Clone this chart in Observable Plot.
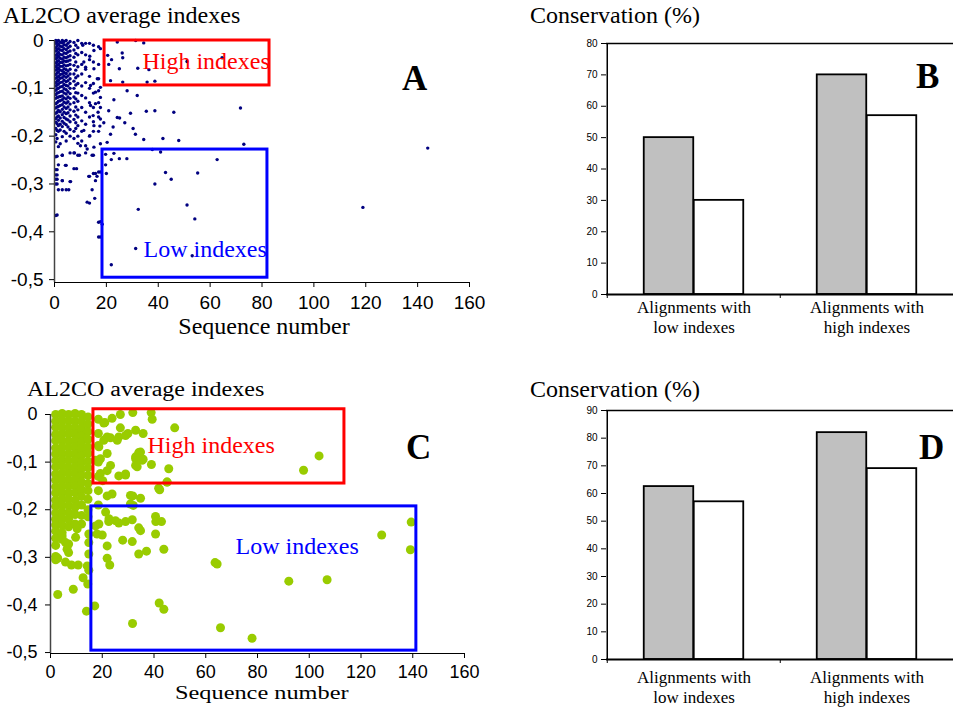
<!DOCTYPE html>
<html>
<head>
<meta charset="utf-8">
<script src="https://cdn.jsdelivr.net/npm/d3@7"></script>
<script src="https://cdn.jsdelivr.net/npm/@observablehq/plot@0.6"></script>
<style>
  html, body { margin: 0; padding: 0; background: #fff; }
  #page { position: relative; width: 953px; height: 708px; overflow: hidden; background: #fff; }
  #page svg { position: absolute; }
  .t { position: absolute; white-space: nowrap; line-height: 1; font-family: "Liberation Serif", "Times New Roman", serif; color: #000; transform-origin: left top; }
  .h { font-size: 24px; }
  .letter { font-size: 35px; font-weight: bold; }
</style>
</head>
<body>
<div id="page">
  <div class="t h" style="left:3px;top:3px">AL2CO average indexes</div>
  <div class="t h" style="left:264px;top:314px;transform:translateX(-50%)">Sequence number</div>
  <div class="t letter" style="left:402px;top:61px">A</div>
  <div class="t h" style="left:530px;top:3px">Conservation (%)</div>
  <div class="t letter" style="left:916px;top:59px">B</div>
  <div class="t" style="left:27px;top:379px;font-size:20px;transform:scaleX(1.2)">AL2CO average indexes</div>
  <div class="t" style="left:175px;top:683px;font-size:19px;transform:scaleX(1.28)">Sequence number</div>
  <div class="t letter" style="left:406px;top:430px">C</div>
  <div class="t h" style="left:530px;top:377px">Conservation (%)</div>
  <div class="t letter" style="left:919px;top:430px">D</div>
</div>
<script>
// ---------------- DATA ----------------
// Panel A: dense columns (sequence number, list of AL2CO indexes)
const colsA = [
  [0.5, [0, -0.006, -0.015, -0.022, -0.031, -0.038, -0.047, -0.055, -0.062, -0.071, -0.079, -0.088, -0.095, -0.104, -0.113, -0.121, -0.132, -0.141, -0.152, -0.163, -0.171, -0.184, -0.197, -0.212, -0.243, -0.27, -0.281, -0.29, -0.30, -0.366]],
  [1, [-0.003, -0.011, -0.019, -0.028, -0.036, -0.044, -0.052, -0.06, -0.068, -0.077, -0.085, -0.093, -0.101, -0.11, -0.119, -0.13, -0.139, -0.15, -0.16, -0.174, -0.188, -0.205]],
  [1.5, [0, -0.008, -0.017, -0.025, -0.033, -0.042, -0.05, -0.058, -0.066, -0.075, -0.083, -0.091, -0.1, -0.109, -0.118, -0.127, -0.138, -0.146, -0.158, -0.167, -0.178, -0.19, -0.222, -0.26, -0.312]],
  [2.2, [-0.004, -0.012, -0.02, -0.029, -0.037, -0.046, -0.054, -0.062, -0.071, -0.079, -0.088, -0.097, -0.107, -0.117, -0.126, -0.136, -0.149, -0.162, -0.175, -0.187, -0.216]],
  [3, [0, -0.005, -0.013, -0.021, -0.03, -0.039, -0.046, -0.054, -0.063, -0.07, -0.078, -0.087, -0.096, -0.106, -0.116, -0.124, -0.134, -0.144, -0.155, -0.169, -0.18, -0.201, -0.24, -0.293]],
  [3.7, [-0.002, -0.009, -0.017, -0.026, -0.035, -0.043, -0.051, -0.059, -0.067, -0.074, -0.083, -0.092, -0.101, -0.11, -0.12, -0.129, -0.139, -0.15, -0.161, -0.173, -0.19]],
  [4.5, [0, -0.01, -0.019, -0.027, -0.036, -0.044, -0.053, -0.061, -0.069, -0.077, -0.086, -0.094, -0.103, -0.112, -0.122, -0.131, -0.142, -0.153, -0.164, -0.176, -0.194, -0.21, -0.261, -0.312]],
  [5.2, [-0.006, -0.015, -0.024, -0.034, -0.043, -0.052, -0.064, -0.074, -0.084, -0.095, -0.107, -0.118, -0.128, -0.139, -0.151, -0.166, -0.181]],
  [6, [-0.002, -0.012, -0.022, -0.032, -0.041, -0.05, -0.06, -0.07, -0.08, -0.09, -0.1, -0.111, -0.121, -0.133, -0.145, -0.158, -0.17, -0.186, -0.2, -0.235, -0.295]],
  [7.5, [-0.004, -0.02, -0.035, -0.052, -0.07, -0.085, -0.1, -0.118, -0.13, -0.148, -0.165, -0.19, -0.205, -0.235, -0.268]],
  [8.2, [-0.01, -0.027, -0.045, -0.062, -0.078, -0.093, -0.109, -0.122, -0.139, -0.156, -0.172, -0.184]],
  [9, [0, -0.015, -0.03, -0.055, -0.074, -0.09, -0.11, -0.127, -0.145, -0.16, -0.178, -0.2, -0.215, -0.24]],
  [10.5, [-0.006, -0.025, -0.05, -0.07, -0.095, -0.115, -0.14, -0.168, -0.19, -0.21]],
  [12, [-0.006, -0.03, -0.06, -0.088, -0.12, -0.15, -0.175, -0.22, -0.235]],
  [13.5, [-0.006, -0.04, -0.075, -0.1, -0.13, -0.16, -0.2, -0.284, -0.34]],
  [15, [-0.01, -0.045, -0.09, -0.11, -0.14, -0.17, -0.19, -0.24, -0.278]],
  [17, [-0.013, -0.05, -0.08, -0.105, -0.13, -0.16, -0.19, -0.275, -0.38, -0.411]]
];
// Panel A: scattered points [sequence number, index]
const pointsA = [
  [24.2,-0.003],[31.3,0],[34.4,-0.005],[26.1,-0.026],[26.3,-0.036],[20.5,-0.031],[22,-0.04],[20.9,-0.05],
  [25,-0.059],[32.1,-0.058],[36.4,-0.061],[51.1,-0.044],[64.6,-0.036],[21.6,-0.084],[26.3,-0.087],[35.7,-0.087],
  [38.7,-0.085],[28,-0.105],[31.9,-0.115],[22.9,-0.124],[20.9,-0.147],[35.4,-0.148],[38.7,-0.147],[46,-0.15],
  [71.7,-0.141],[29.3,-0.152],[24.2,-0.161],[25.1,-0.162],[27.1,-0.172],[30.3,-0.184],[31.2,-0.196],[21.6,-0.196],
  [34.4,-0.207],[41.8,-0.205],[47.9,-0.209],[73,-0.217],[37.7,-0.228],[40.9,-0.233],[62.7,-0.249],[143.9,-0.225],
  [22.9,-0.236],[25,-0.247],[27.9,-0.247],[21.9,-0.249],[19.7,-0.238],[42.8,-0.276],[45,-0.29],[38.7,-0.3],
  [55.2,-0.277],[32.3,-0.353],[51.1,-0.344],[54.1,-0.373],[31.3,-0.435],[53.1,-0.45],[21.9,-0.469],[118.9,-0.349],
  [17.7,-0.379],[18.4,-0.384],[17.7,-0.411],[20,-0.278],[19.7,-0.26],[16.4,-0.284],[17.7,-0.275],[15.8,-0.278],
  [13.2,-0.284],[15.8,-0.293],[14.5,-0.312],[12.6,-0.338],[15.5,-0.33],[14.5,-0.24],[9.6,-0.24],[7.7,-0.235],
  [8.5,-0.268],[4.2,-0.261],[6.2,-0.295],[5.5,-0.312],[3,-0.312],[3,-0.293],[1,-0.242],[3,-0.24],[1,-0.27],
  [1,-0.281],[1,-0.29],[1,-0.3],[1,-0.365],
  [17.7,-0.017],[10.9,-0.01],[15.2,-0.021],[13.6,-0.033],[11.3,-0.045],[12,-0.056],[15.2,-0.059],[16.5,-0.08],
  [13.9,-0.094],[17.7,-0.098],[15.8,-0.108],[17.7,-0.119],[13.9,-0.136],[15.8,-0.132],[17.7,-0.14],[16.8,-0.15],
  [14.9,-0.157],[17.7,-0.164],[19,-0.172],[15.2,-0.178],[17.5,-0.179],[11.3,-0.188],[13.6,-0.199],[17.7,-0.216],
  [10,-0.22],[12.6,-0.227],[15.2,-0.223],[20.3,-0.213],[22.6,-0.181]
];
// Panel C: dense columns
const colsC = [
  [2, [0, -0.014, -0.027, -0.042, -0.055, -0.07, -0.083, -0.097, -0.11, -0.125, -0.138, -0.152, -0.165, -0.18, -0.193, -0.207, -0.22, -0.232, -0.245, -0.26, -0.275, -0.298, -0.305]],
  [4.5, [0.002, -0.012, -0.026, -0.04, -0.054, -0.068, -0.081, -0.095, -0.108, -0.122, -0.136, -0.15, -0.163, -0.177, -0.19, -0.205, -0.218, -0.232, -0.255, -0.262]],
  [7, [0, -0.014, -0.028, -0.041, -0.056, -0.069, -0.083, -0.097, -0.111, -0.124, -0.138, -0.151, -0.165, -0.178, -0.192, -0.206, -0.22, -0.236, -0.272, -0.29]],
  [9.5, [0.002, -0.013, -0.027, -0.04, -0.054, -0.068, -0.082, -0.096, -0.11, -0.123, -0.137, -0.15, -0.164, -0.18, -0.195, -0.21, -0.23]],
  [12, [0, -0.015, -0.03, -0.044, -0.058, -0.072, -0.086, -0.1, -0.114, -0.128, -0.142, -0.158, -0.172, -0.19, -0.212, -0.23]],
  [14.5, [-0.005, -0.02, -0.036, -0.052, -0.068, -0.082, -0.098, -0.112, -0.128, -0.145, -0.16, -0.178, -0.2, -0.215]],
  [18.5, [-0.01, -0.04, -0.065, -0.1, -0.13, -0.16, -0.19]]
];
// Panel C: scattered points
const pointsC = [
  [20.6,-0.018],[23.8,-0.008],[27,0],[31.8,0.004],[38.9,0.004],[48,-0.028],[21,-0.017],[27,-0.028],[29.9,-0.04],
  [32.9,-0.033],[35.8,-0.04],[26.4,-0.047],[23.2,-0.049],[20.6,-0.054],[34.8,-0.079],[32.9,-0.093],[35.8,-0.094],
  [39,-0.105],[33.5,-0.11],[45.7,-0.114],[45.1,-0.142],[42.2,-0.158],[30.9,-0.17],[34.8,-0.176],[26.4,-0.129],
  [29,-0.127],[23.2,-0.107],[19.3,-0.093],[103.8,-0.087],[97.8,-0.117],
  [139.4,-0.226],[139.1,-0.284],[128,-0.253],[106.9,-0.347],[92.1,-0.35],[77.9,-0.47],[65.7,-0.448],[64.4,-0.314],
  [63.6,-0.311],[43.8,-0.409],[42,-0.396],[31.7,-0.439],[43.8,-0.283],[37.1,-0.287],[34.1,-0.293],[34.8,-0.244],
  [34.1,-0.238],[40.6,-0.251],[40.7,-0.225],[42.9,-0.225],[40.6,-0.214],[31.6,-0.221],[31.6,-0.267],[27.9,-0.264],
  [29,-0.225],[26.4,-0.228],[22.5,-0.225],[21.9,-0.276],[21.9,-0.302],[22.9,-0.316],[20,-0.253],[18,-0.251],
  [17.4,-0.234],[17.1,-0.402],[13.9,-0.413],[14.4,-0.356],[14.8,-0.327],[14.2,-0.318],[12.6,-0.343],[10.7,-0.316],
  [8.1,-0.316],[5.8,-0.31],[2.8,-0.378],[2.8,-0.302],[8.8,-0.367],[14.8,-0.293],[14.8,-0.269],[14.8,-0.251],
  [6.4,-0.283],[5.8,-0.269],[4.5,-0.248],[9.7,-0.258],[10.3,-0.24],[32,-0.191],[17.4,-0.096],[19.3,-0.124],
  [21.9,-0.082],[45,-0.142],[41.8,-0.155],[32.9,-0.089],[34.1,-0.08],[35.4,-0.096],[32.9,-0.107],[39.3,-0.01],
  [29,-0.125],[21.9,-0.118],[23.8,-0.167],[21.9,-0.171],[20.2,-0.139],[21.9,-0.047],[25.8,-0.054],[29,-0.044],
  [18.7,-0.068],[30.9,-0.188],[31.8,-0.171],[21.3,-0.205],[18.7,-0.23],[22.6,-0.219],[25.1,-0.223]
];
// Highlighted regions (sequence number range, index range)
const regionsA = [
  {label: "High indexes", color: "#ff0000", seq: [19.3, 82.9], idx: [0.0, -0.094], labelAt: [33.9, -0.059]},
  {label: "Low indexes",  color: "#0000ff", seq: [18.5, 82.1], idx: [-0.228, -0.496], labelAt: [34.3, -0.452]}
];
const regionsC = [
  {label: "High indexes", color: "#ff0000", seq: [16.6, 113.6], idx: [0.011, -0.145], labelAt: [37.5, -0.08]},
  {label: "Low indexes",  color: "#0000ff", seq: [15.8, 141.4], idx: [-0.193, -0.496], labelAt: [71.5, -0.292]}
];
const seqTicks = [0, 20, 40, 60, 80, 100, 120, 140, 160];
const idxTicks = [0, -0.1, -0.2, -0.3, -0.4, -0.5];

// Bar charts
const categories = ["Alignments with\nlow indexes", "Alignments with\nhigh indexes"];
const grayB = [50, 70];
const whiteB = [30, 57];
const grayD = [62.5, 82];
const whiteD = [57, 69];
const ticksB = [0, 10, 20, 30, 40, 50, 60, 70, 80];
const ticksD = [0, 10, 20, 30, 40, 50, 60, 70, 80, 90];

// ---------------- DRAWING ----------------
const page = document.getElementById("page");
const serif = "Liberation Serif, Times New Roman, serif";
const sans = "Liberation Sans, Arial, Helvetica, sans-serif";
const fmtIdx = d => d === 0 ? "0" : d.toFixed(1).replace(".", ",");

function scatter({cols, points, regions, color, r, top, height, marginLeft, marginRight, marginTop, marginBottom, yMin, yTickPad, xTickPad, tickFont}) {
  const data = cols.flatMap(([s, ys]) => ys.map(y => ({seq: s, idx: y})))
    .concat(points.map(([s, y]) => ({seq: s, idx: y})));
  const rects = regions.map(d => ({...d, x1: d.seq[0], x2: d.seq[1], y1: d.idx[0], y2: d.idx[1], lx: d.labelAt[0], ly: d.labelAt[1]}));
  const svg = Plot.plot({
    width: 480, height, marginLeft, marginRight, marginTop, marginBottom,
    x: {domain: [0, 160]},
    y: {domain: [yMin, 0]},
    style: {fontFamily: sans, fontSize: tickFont + "px", color: "#000", background: "transparent", overflow: "visible"},
    marks: [
      Plot.dot(data, {x: "seq", y: "idx", r, fill: color, stroke: null}),
      Plot.rect(rects, {x1: "x1", x2: "x2", y1: "y1", y2: "y2", fill: "none", stroke: "color", strokeWidth: 3}),
      Plot.text(rects, {x: "lx", y: "ly", text: "label", fill: "color", fontFamily: serif, fontSize: 24, textAnchor: "start", lineAnchor: "bottom"}),
      Plot.ruleX([0], {stroke: "#444", strokeWidth: 1.5}),
      Plot.ruleY([yMin], {stroke: "#000", strokeWidth: 1.2}),
      Plot.axisY({ticks: idxTicks, tickFormat: fmtIdx, tickSize: 5, tickPadding: yTickPad, label: null, fontSize: tickFont}),
      Plot.axisX({ticks: seqTicks, tickFormat: d => String(d), tickSize: 5, tickPadding: xTickPad, label: null, fontSize: tickFont})
    ]
  });
  svg.style.left = "0px";
  svg.style.top = top + "px";
  page.appendChild(svg);
}

function bars({gray, white, ticks, yMax, top, height, marginTop, marginBottom, labelPad, left}) {
  const width = 433, marginLeft = 86, marginRight = 0;
  const step = (width - marginLeft - marginRight) / categories.length;
  const barW = 50;
  const pxPerUnit = (height - marginTop - marginBottom) / yMax;
  const rows = categories.map((c, i) => ({cat: c, gray: gray[i], white: white[i]}));
  const svg = Plot.plot({
    width, height, marginLeft, marginRight, marginTop, marginBottom,
    x: {type: "band", domain: categories, paddingInner: 0, paddingOuter: 0},
    y: {domain: [0, yMax]},
    style: {fontFamily: sans, fontSize: "10px", color: "#000", background: "transparent", overflow: "visible"},
    marks: [
      Plot.ruleY([yMax], {stroke: "#000", strokeWidth: 1.5}),
      Plot.barY(rows, {x: "cat", y: "gray", fill: "#c0c0c0", stroke: "#000", strokeWidth: 1.8, insetLeft: step / 2 - barW, insetRight: step / 2}),
      Plot.barY(rows, {x: "cat", y: "white", fill: "#fff", stroke: "#000", strokeWidth: 1.8, insetLeft: step / 2, insetRight: step / 2 - barW}),
      Plot.ruleX([categories[0]], {dx: -step / 2, stroke: "#000", strokeWidth: 1.5}),
      Plot.ruleY([0], {stroke: "#000", strokeWidth: 2}),
      Plot.ruleX(categories, {dx: -step / 2, y1: 0, y2: -4 / pxPerUnit, stroke: "#000", strokeWidth: 1}),
      Plot.axisY({ticks, tickSize: 5, tickPadding: 4, label: null, fontSize: 10}),
      Plot.axisX({tickSize: 0, tickPadding: labelPad, label: null, fontFamily: serif, fontSize: 17, lineHeight: 1.2})
    ]
  });
  svg.style.left = left + "px";
  svg.style.top = top + "px";
  page.appendChild(svg);
}

scatter({cols: colsA, points: pointsA, regions: regionsA, color: "#000080", r: 1.7,
  top: 0, height: 345, marginLeft: 54, marginRight: 11, marginTop: 40, marginBottom: 63, yMin: -0.506, yTickPad: 6, xTickPad: 8, tickFont: 19});
scatter({cols: colsC, points: pointsC, regions: regionsC, color: "#99cc00", r: 4.5,
  top: 370, height: 338, marginLeft: 50, marginRight: 16, marginTop: 44, marginBottom: 55, yMin: -0.502, yTickPad: 8, xTickPad: 7, tickFont: 18});
bars({gray: grayB, white: whiteB, ticks: ticksB, yMax: 80, top: 0, height: 345, marginTop: 43, marginBottom: 51, labelPad: 4, left: 520});
bars({gray: grayD, white: whiteD, ticks: ticksD, yMax: 90, top: 370, height: 338, marginTop: 40, marginBottom: 49, labelPad: 9, left: 520});
</script>
</body>
</html>
